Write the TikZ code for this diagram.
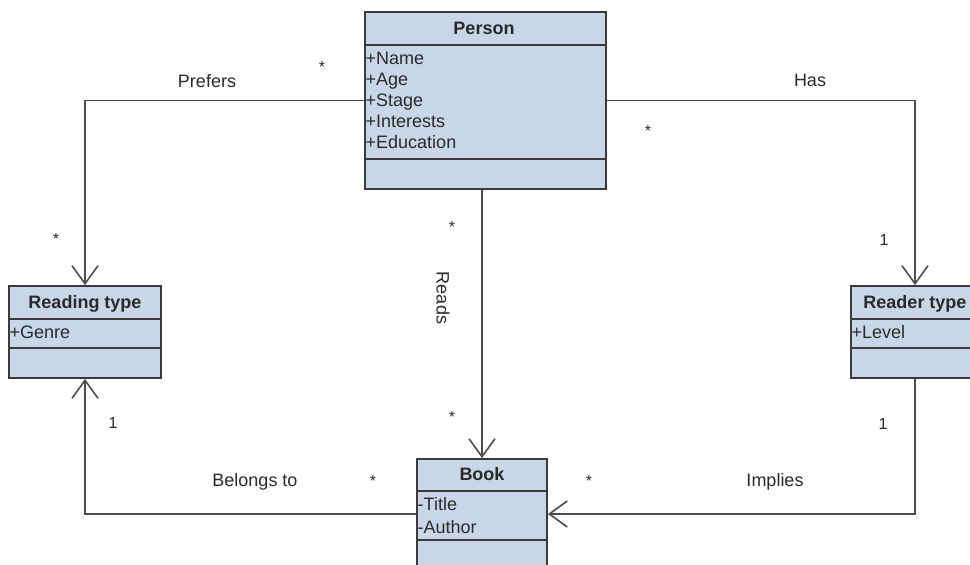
\documentclass[tikz,border=0pt]{standalone}
\usepackage{fontspec}
\setmainfont{Liberation Sans}
\usetikzlibrary{arrows.meta,calc}
\definecolor{clsfill}{HTML}{C9D6E7}
\definecolor{clsline}{HTML}{3A3A3A}
\definecolor{conn}{HTML}{4D4D4D}
\definecolor{txt}{HTML}{2A2A2A}
\begin{document}
\begin{tikzpicture}[x=1pt,y=-1pt,
 cls/.style={draw=clsline, fill=clsfill, line width=1.8pt, rectangle, inner sep=0pt},
 div/.style={draw=clsline, line width=1.4pt},
 ttl/.style={font=\fontsize{18}{20}\selectfont\bfseries, text=txt, inner sep=0pt, anchor=base},
 attr/.style={font=\fontsize{18}{20}\selectfont, text=txt, anchor=base west, inner sep=0.5pt},
 lbl/.style={font=\fontsize{18}{20}\selectfont, text=txt, inner sep=0pt, anchor=base},
 mult/.style={font=\fontsize{16}{18}\selectfont, text=txt, inner sep=0pt, anchor=base},
 assoc/.style={draw=conn, line width=1.8pt, -{Straight Barb[length=18pt,width=26pt,line width=1.6pt]}},
 ]
\useasboundingbox (0,0) rectangle (970,565);

% Person
\node[cls, minimum width=241pt, minimum height=177pt] (person) at (485.5,100.5) {};
\draw[div] ([yshift=-34pt]person.north west) -- ([yshift=-34pt]person.north east);
\draw[div] ([yshift=-148pt]person.north west) -- ([yshift=-148pt]person.north east);
\node[ttl] (persont) at (484,34.5) {Person};
\node[attr] (pa1) at (365,64.5) {+Name};
\node[attr] (pa2) at (365,85.5) {+Age};
\node[attr] (pa3) at (365,106.5) {+Stage};
\node[attr] (pa4) at (365,127.5) {+Interests};
\node[attr] (pa5) at (365,148.5) {+Education};

% Reading type
\node[cls, minimum width=152pt, minimum height=92pt] (reading) at (85,332) {};
\draw[div] ([yshift=-34pt]reading.north west) -- ([yshift=-34pt]reading.north east);
\draw[div] ([yshift=-63pt]reading.north west) -- ([yshift=-63pt]reading.north east);
\node[ttl] (readingt) at (85,308.5) {Reading type};
\node[attr] (ra1) at (9,338.5) {+Genre};

% Reader type
\node[cls, minimum width=128pt, minimum height=92pt] (reader) at (915,332) {};
\draw[div] ([yshift=-34pt]reader.north west) -- ([yshift=-34pt]reader.north east);
\draw[div] ([yshift=-63pt]reader.north west) -- ([yshift=-63pt]reader.north east);
\node[ttl] (readert) at (915,308.5) {Reader type};
\node[attr] (rda1) at (851,338.5) {+Level};

% Book
\node[cls, minimum width=130pt, minimum height=110pt] (book) at (482,514) {};
\draw[div] ([yshift=-33pt]book.north west) -- ([yshift=-33pt]book.north east);
\draw[div] ([yshift=-82pt]book.north west) -- ([yshift=-82pt]book.north east);
\node[ttl] (bookt) at (482,480.5) {Book};
\node[attr] (ba1) at (417,510.5) {-Title};
\node[attr] (ba2) at (417,533.5) {-Author};

% connectors
\draw[assoc] (person.west) -| (reading.north);
\draw[assoc] (person.east) -| (reader.north);
\draw[assoc] (book.north |- person.south) -- (book.north);
\draw[assoc] (book.west) -| (reading.south);
\draw[assoc] (reader.south) |- (book.east);

% labels
\node[lbl] (lprefers) at (207,87.5) {Prefers};
\node[lbl] (lhas) at (810,86.5) {Has};
\node[font=\fontsize{18}{20}\selectfont, text=txt, inner sep=0pt, rotate=-90] (lreads) at (443,298) {Reads};
\node[lbl] (lbelongs) at (255,486.5) {Belongs to};
\node[lbl] (limplies) at (775,486.5) {Implies};

% multiplicities
\node[mult] (m1) at (322,72) {*};
\node[mult] (m2) at (56,244) {*};
\node[mult] (m3) at (648,136) {*};
\node[mult] (m4) at (452,232) {*};
\node[mult] (m5) at (452,422) {*};
\node[mult] (m6) at (373,486) {*};
\node[mult] (m7) at (589,486) {*};
\node[mult] (n1) at (884,245.5) {1};
\node[mult] (n2) at (113,428.5) {1};
\node[mult] (n3) at (883,429.5) {1};
\end{tikzpicture}
\end{document}
